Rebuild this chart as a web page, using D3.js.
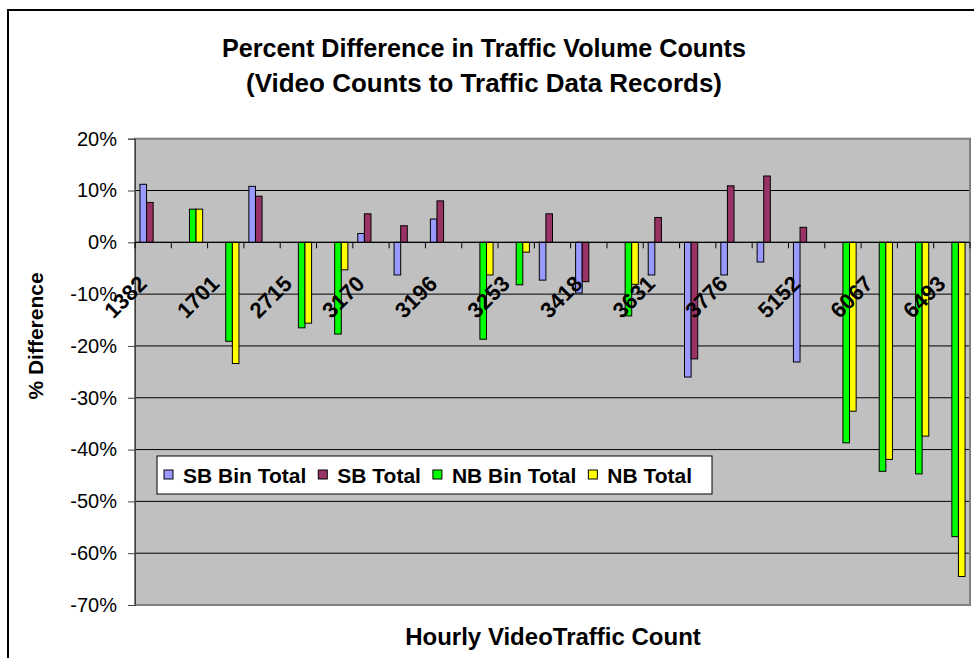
<!DOCTYPE html>
<html>
<head>
<meta charset="utf-8">
<script src="https://cdn.jsdelivr.net/npm/d3@7"></script>
<style>
  html, body { margin: 0; padding: 0; background: #fff; }
  svg { display: block; font-family: "Liberation Sans", Arial, sans-serif; }
</style>
</head>
<body>
<svg id="chart" width="974" height="658"></svg>
<script>
// ---- data ----
const categoryLabels = ["1382","","1701","","2715","","3170","","3196","","3253","","3418","","3631","","3776","","5152","","6067","","6493"];
const seriesNames = ["SB Bin Total","SB Total","NB Bin Total","NB Total"];
const sbBinTotal = [11.2,null,null,10.8,null,null,1.7,-6.3,4.5,null,null,-7.3,-9.8,null,-6.3,-26.0,-6.3,-3.8,-23.1,null,null,null,null];
const sbTotal    = [7.7,null,null,8.9,null,null,5.5,3.2,8.0,null,null,5.5,-7.6,null,4.8,-22.5,10.9,12.8,2.9,null,null,null,null];
const nbBinTotal = [null,6.4,-19.1,null,-16.5,-17.7,null,null,null,-18.7,-8.2,null,null,-14.2,null,null,null,null,null,-38.7,-44.2,-44.7,-56.8];
const nbTotal    = [null,6.4,-23.4,null,-15.6,-5.3,null,null,null,-6.3,-1.9,null,null,-8.1,null,null,null,null,null,-32.6,-41.9,-37.4,-64.5];
const yTicks = [20,10,0,-10,-20,-30,-40,-50,-60,-70];
const seriesColors = ["#9999FF","#993366","#00FF00","#FFFF00"];
const titleLines = ["Percent Difference in Traffic Volume Counts","(Video Counts to Traffic Data Records)"];
const yTitle = "% Difference";
const xTitle = "Hourly VideoTraffic Count";

const seriesValues = [sbBinTotal, sbTotal, nbBinTotal, nbTotal];

// ---- layout ----
const svg = d3.select("#chart");
const P = {left: 135, right: 970, top: 138.7, bottom: 605};

// outer chart border (cut by the window on right/bottom)
svg.append("rect").attr("x", 8).attr("y", 10).attr("width", 1000).attr("height", 700)
  .attr("fill", "#fff").attr("stroke", "#000").attr("stroke-width", 2);

const x = d3.scaleBand().domain(d3.range(categoryLabels.length)).range([P.left, P.right]).padding(0);
const x1 = d3.scaleBand().domain(d3.range(seriesNames.length)).range([0, x.bandwidth()]).paddingInner(0).paddingOuter(0.75);
const y = d3.scaleLinear().domain([-70, 20]).range([P.bottom, P.top]);

// plot area
svg.append("rect").attr("x", P.left).attr("y", P.top).attr("width", P.right - P.left).attr("height", P.bottom - P.top)
  .attr("fill", "#C0C0C0");

// gridlines
svg.append("g").selectAll("line").data(yTicks.filter(t => t !== 20 && t !== -70)).join("line")
  .attr("x1", P.left).attr("x2", P.right)
  .attr("y1", d => y(d)).attr("y2", d => y(d))
  .attr("stroke", "#000").attr("stroke-width", 1);

// plot border
svg.append("rect").attr("x", P.left).attr("y", P.top).attr("width", P.right - P.left).attr("height", P.bottom - P.top)
  .attr("fill", "none").attr("stroke", "#808080").attr("stroke-width", 2);

// y axis
const yAxis = svg.append("g").attr("transform", `translate(${P.left},0)`)
  .call(d3.axisLeft(y).tickValues(yTicks).tickSize(7).tickPadding(11).tickFormat(d => d + "%"));
yAxis.select(".domain").attr("stroke", "#404040");
yAxis.selectAll(".tick line").attr("stroke", "#404040");
yAxis.selectAll("text").attr("font-size", 20).attr("fill", "#000")
  .attr("font-family", "Liberation Sans, Arial, sans-serif");

// bars
const rows = [];
categoryLabels.forEach((c, i) => {
  seriesValues.forEach((arr, s) => {
    if (arr[i] !== null && arr[i] !== undefined) rows.push({i, s, v: arr[i]});
  });
});
svg.append("g").selectAll("rect").data(rows).join("rect")
  .attr("x", d => x(d.i) + x1(d.s))
  .attr("width", x1.bandwidth())
  .attr("y", d => y(Math.max(0, d.v)))
  .attr("height", d => Math.abs(y(d.v) - y(0)))
  .attr("fill", d => seriesColors[d.s])
  .attr("stroke", "#000").attr("stroke-width", 1);

// category axis at zero
const xAxis = svg.append("g").attr("transform", `translate(0,${y(0)})`);
xAxis.append("line").attr("x1", P.left).attr("x2", P.right).attr("y1", 0).attr("y2", 0)
  .attr("stroke", "#000").attr("stroke-width", 1);
const boundaries = d3.range(categoryLabels.length + 1).map(k => k < categoryLabels.length ? x(k) : P.right);
xAxis.selectAll("line.tk").data(boundaries).join("line").attr("class", "tk")
  .attr("x1", d => d).attr("x2", d => d).attr("y1", 0).attr("y2", 6)
  .attr("stroke", "#000").attr("stroke-width", 1);

// category labels
svg.append("g").selectAll("text").data(categoryLabels.map((l, i) => ({l, i})).filter(d => d.l !== ""))
  .join("text")
  .attr("transform", d => `translate(${x(d.i) + x.bandwidth() / 2 - 5},285) rotate(-45)`)
  .attr("text-anchor", "end")
  .attr("font-size", 22)
  .attr("font-weight", "bold")
  .attr("fill", "#000")
  .text(d => d.l);

// title
svg.append("g").selectAll("text").data(titleLines).join("text")
  .attr("x", 484).attr("y", (d, i) => 57 + i * 35)
  .attr("text-anchor", "middle")
  .attr("font-size", 26).attr("font-weight", "bold")
  .attr("textLength", (d, i) => i === 0 ? 524 : 476)
  .attr("lengthAdjust", "spacingAndGlyphs")
  .text(d => d);

// axis titles
svg.append("text").attr("transform", "translate(43,336) rotate(-90)")
  .attr("text-anchor", "middle").attr("font-size", 21).attr("font-weight", "bold")
  .text(yTitle);
svg.append("text").attr("x", 553).attr("y", 645)
  .attr("text-anchor", "middle").attr("font-size", 24).attr("font-weight", "bold")
  .text(xTitle);

// legend
const leg = svg.append("g");
leg.append("rect").attr("x", 157).attr("y", 456).attr("width", 555).attr("height", 38)
  .attr("fill", "#fff").attr("stroke", "#000").attr("stroke-width", 1);
let lx = 164;
seriesNames.forEach((name, s) => {
  leg.append("rect").attr("x", lx).attr("y", 470).attr("width", 9).attr("height", 9)
    .attr("fill", seriesColors[s]).attr("stroke", "#000").attr("stroke-width", 1);
  const t = leg.append("text").attr("x", lx + 19).attr("y", 483)
    .attr("font-size", 21).attr("font-weight", "bold").text(name);
  lx += 19 + t.node().getComputedTextLength() + 12;
});
</script>
</body>
</html>
